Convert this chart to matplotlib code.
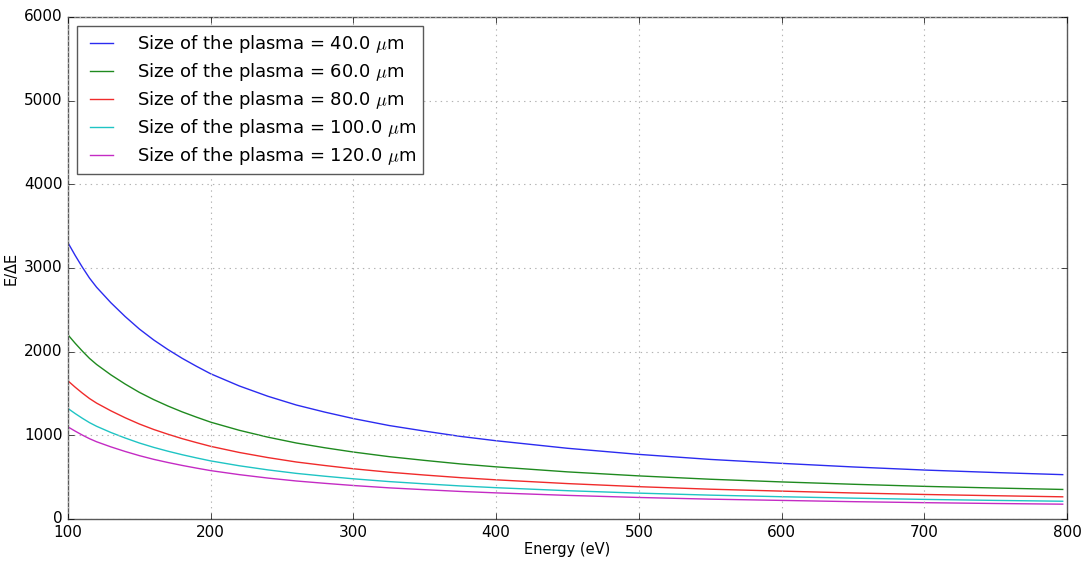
import matplotlib
matplotlib.use("Agg")
import matplotlib.pyplot as plt

energy = [100, 105, 110, 115, 120, 130, 140, 150, 160, 170, 180, 190, 200, 220, 240, 260, 280,
          300, 325, 350, 375, 400, 450, 500, 550, 600, 650, 700, 750, 797]
r_40 = [3300, 3150, 3010, 2880, 2770, 2585, 2420, 2270, 2140, 2025, 1920, 1825, 1735, 1590, 1467,
        1362, 1277, 1200, 1117, 1050, 987, 935, 845, 772, 712, 665, 622, 585, 555, 530]
r_60 = [2200, 2100, 2007, 1920, 1847, 1723, 1613, 1513, 1427, 1350, 1280, 1217, 1157, 1060, 978,
        908, 851, 800, 745, 700, 658, 623, 563, 515, 475, 443, 415, 390, 370, 353]
r_80 = [1650, 1575, 1505, 1440, 1385, 1293, 1210, 1135, 1070, 1013, 960, 913, 868, 795, 734,
        681, 639, 600, 559, 525, 494, 468, 423, 386, 356, 333, 311, 293, 278, 265]
r_100 = [1320, 1260, 1204, 1152, 1108, 1034, 968, 908, 856, 810, 768, 730, 694, 636, 587,
         545, 511, 480, 447, 420, 395, 374, 338, 309, 285, 266, 249, 234, 222, 212]
r_120 = [1100, 1050, 1003, 960, 923, 862, 807, 757, 713, 675, 640, 608, 578, 530, 489,
         454, 426, 400, 372, 350, 329, 312, 282, 257, 237, 222, 207, 195, 185, 177]
sizes = ["40.0", "60.0", "80.0", "100.0", "120.0"]
colors = ["#2b2bf0", "#1f8a1f", "#f02b2b", "#1fc4c4", "#c42bc4"]
xticks = [100, 200, 300, 400, 500, 600, 700, 800]
yticks = [0, 1000, 2000, 3000, 4000, 5000, 6000]

plt.style.use("classic")
plt.rcParams["figure.facecolor"] = "white"
plt.rcParams["savefig.facecolor"] = "white"
plt.rcParams["mathtext.fontset"] = "cm"
plt.rcParams["font.family"] = ["DejaVu Sans"]

fig = plt.figure(figsize=(10.87, 5.61), dpi=100)
ax = fig.add_axes([0.0626, 0.0749, 0.919, 0.8948])

for vals, s, c in zip([r_40, r_60, r_80, r_100, r_120], sizes, colors):
    ax.plot(energy, vals, color=c, lw=1.0, label="Size of the plasma = %s $\\mu$m" % s)

ax.set_xlim(100, 800)
ax.set_ylim(0, 6000)
ax.set_xticks(xticks)
ax.set_yticks(yticks)
ax.tick_params(labelsize=11)
ax.grid(True, color="0.7", linestyle=":", lw=0.8)
for sp in ax.spines.values():
    sp.set_color("0.35")
ax.set_xlabel("Energy (eV)", fontsize=10.5, labelpad=2)
ax.set_ylabel("E/\u0394E", fontsize=10.5, labelpad=4)

leg = ax.legend(loc="upper left", fontsize=13, handlelength=1.9, handletextpad=1.0,
                labelspacing=0.33, borderaxespad=0.5, frameon=True, fancybox=False)
leg.get_frame().set_edgecolor("0.35")

fig.savefig("out.png", dpi=100)
